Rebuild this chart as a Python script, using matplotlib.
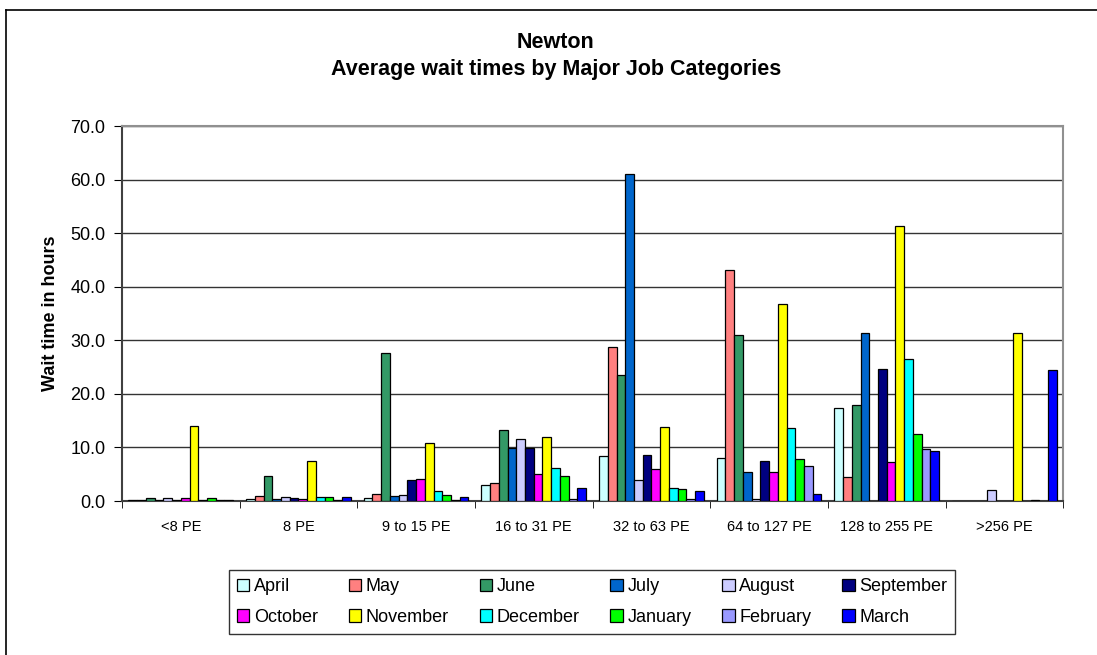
import matplotlib.pyplot as plt
import numpy as np
from matplotlib.lines import Line2D

plt.rcParams['font.family'] = ['Liberation Sans', 'DejaVu Sans']

categories = ['<8 PE', '8 PE', '9 to 15 PE', '16 to 31 PE', '32 to 63 PE',
              '64 to 127 PE', '128 to 255 PE', '>256 PE']
months = ['April', 'May', 'June', 'July', 'August', 'September',
          'October', 'November', 'December', 'January', 'February', 'March']
colors = ['#CCFFFF', '#FF8080', '#339966', '#0066CC', '#CCCCFF', '#000080',
          '#FF00FF', '#FFFF00', '#00FFFF', '#00FF00', '#9999FF', '#0000FF']

# wait times in hours, one list per month, in category order
april = [0.1, 0.3, 0.6, 2.9, 8.4, 8.0, 17.3, 0.0]
may = [0.1, 1.0, 1.4, 3.4, 28.7, 43.1, 4.5, 0.0]
june = [0.6, 4.7, 27.6, 13.3, 23.6, 31.0, 18.0, 0.0]
july = [0.1, 0.3, 1.0, 9.9, 61.0, 5.4, 31.4, 0.0]
august = [0.6, 0.8, 1.2, 11.6, 4.0, 0.3, 0.0, 2.0]
september = [0.1, 0.5, 4.0, 9.9, 8.5, 7.5, 24.6, 0.0]
october = [0.5, 0.3, 4.1, 5.0, 5.9, 5.5, 7.2, 0.0]
november = [14.0, 7.4, 10.9, 12.0, 13.9, 36.7, 51.4, 31.4]
december = [0.1, 0.8, 1.9, 6.1, 2.5, 13.7, 26.5, 0.0]
january = [0.5, 0.7, 1.1, 4.7, 2.3, 7.9, 12.5, 0.1]
february = [0.1, 0.2, 0.2, 0.4, 0.4, 6.5, 9.8, 0.0]
march = [0.1, 0.7, 0.7, 2.5, 1.8, 1.4, 9.4, 24.5]

series = [april, may, june, july, august, september, october,
          november, december, january, february, march]

fig = plt.figure(figsize=(10.97, 6.55), dpi=100)
ax = fig.add_axes([0.1112, 0.2351, 0.858, 0.5725])

x = np.arange(len(categories))
n = len(series)
group_w = 0.89
bw = group_w / n
for i, (vals, name, c) in enumerate(zip(series, months, colors)):
    ax.bar(x - group_w / 2 + bw * (i + 0.5), vals, width=bw, color=c,
           edgecolor='black', linewidth=0.9, label=name, zorder=3)

ax.set_xlim(-0.5, len(categories) - 0.5)
ax.set_ylim(0, 70)
ax.set_yticks(np.arange(0, 71, 10))
ax.set_yticklabels([f'{v:.1f}' for v in np.arange(0, 71, 10)], fontsize=13)
ax.yaxis.grid(True, color='#333333', linewidth=1, zorder=0)
ax.set_xticks(x)
ax.set_xticklabels(categories, fontsize=10.5)
ax.set_xticks(np.arange(-0.5, len(categories), 1), minor=True)
ax.tick_params(axis='x', which='major', length=0, pad=14)
ax.tick_params(axis='x', which='minor', length=5, direction='out')
ax.tick_params(axis='y', length=6, direction='out', pad=6)
ax.set_ylabel('Wait time in hours', fontsize=13, fontweight='bold', labelpad=8)

for s in ['top', 'right']:
    ax.spines[s].set_color('#909090')
    ax.spines[s].set_linewidth(1.5)
for s in ['left', 'bottom']:
    ax.spines[s].set_color('#404040')
    ax.spines[s].set_linewidth(1.5)

fig.text(556 / 1097, 1 - 42 / 655, 'Newton', ha='center', va='center',
         fontsize=15.5, fontweight='bold')
fig.text(556 / 1097, 1 - 70 / 655, 'Average wait times by Major Job Categories',
         ha='center', va='center', fontsize=15.5, fontweight='bold')

# legend is filled row by row like the original
handles, labels = ax.get_legend_handles_labels()
order = [i + 6 * r for i in range(6) for r in range(2)]
leg = fig.legend([handles[k] for k in order], [labels[k] for k in order],
                 loc='center', bbox_to_anchor=(592 / 1097, 1 - 602 / 655),
                 ncol=6, fontsize=13, frameon=True, fancybox=False,
                 handlelength=0.7, handleheight=0.7, handletextpad=0.25,
                 columnspacing=1.7, borderpad=0.45, labelspacing=0.75)
leg.get_frame().set_edgecolor('black')
leg.get_frame().set_linewidth(1)

# chart area border
fig.add_artist(Line2D([6 / 1097, 6 / 1097], [0, 1 - 10 / 655], color='black',
                      linewidth=1.2, transform=fig.transFigure))
fig.add_artist(Line2D([6 / 1097, 1], [1 - 10 / 655, 1 - 10 / 655], color='black',
                      linewidth=1.2, transform=fig.transFigure))

fig.savefig('out.png', dpi=100)
